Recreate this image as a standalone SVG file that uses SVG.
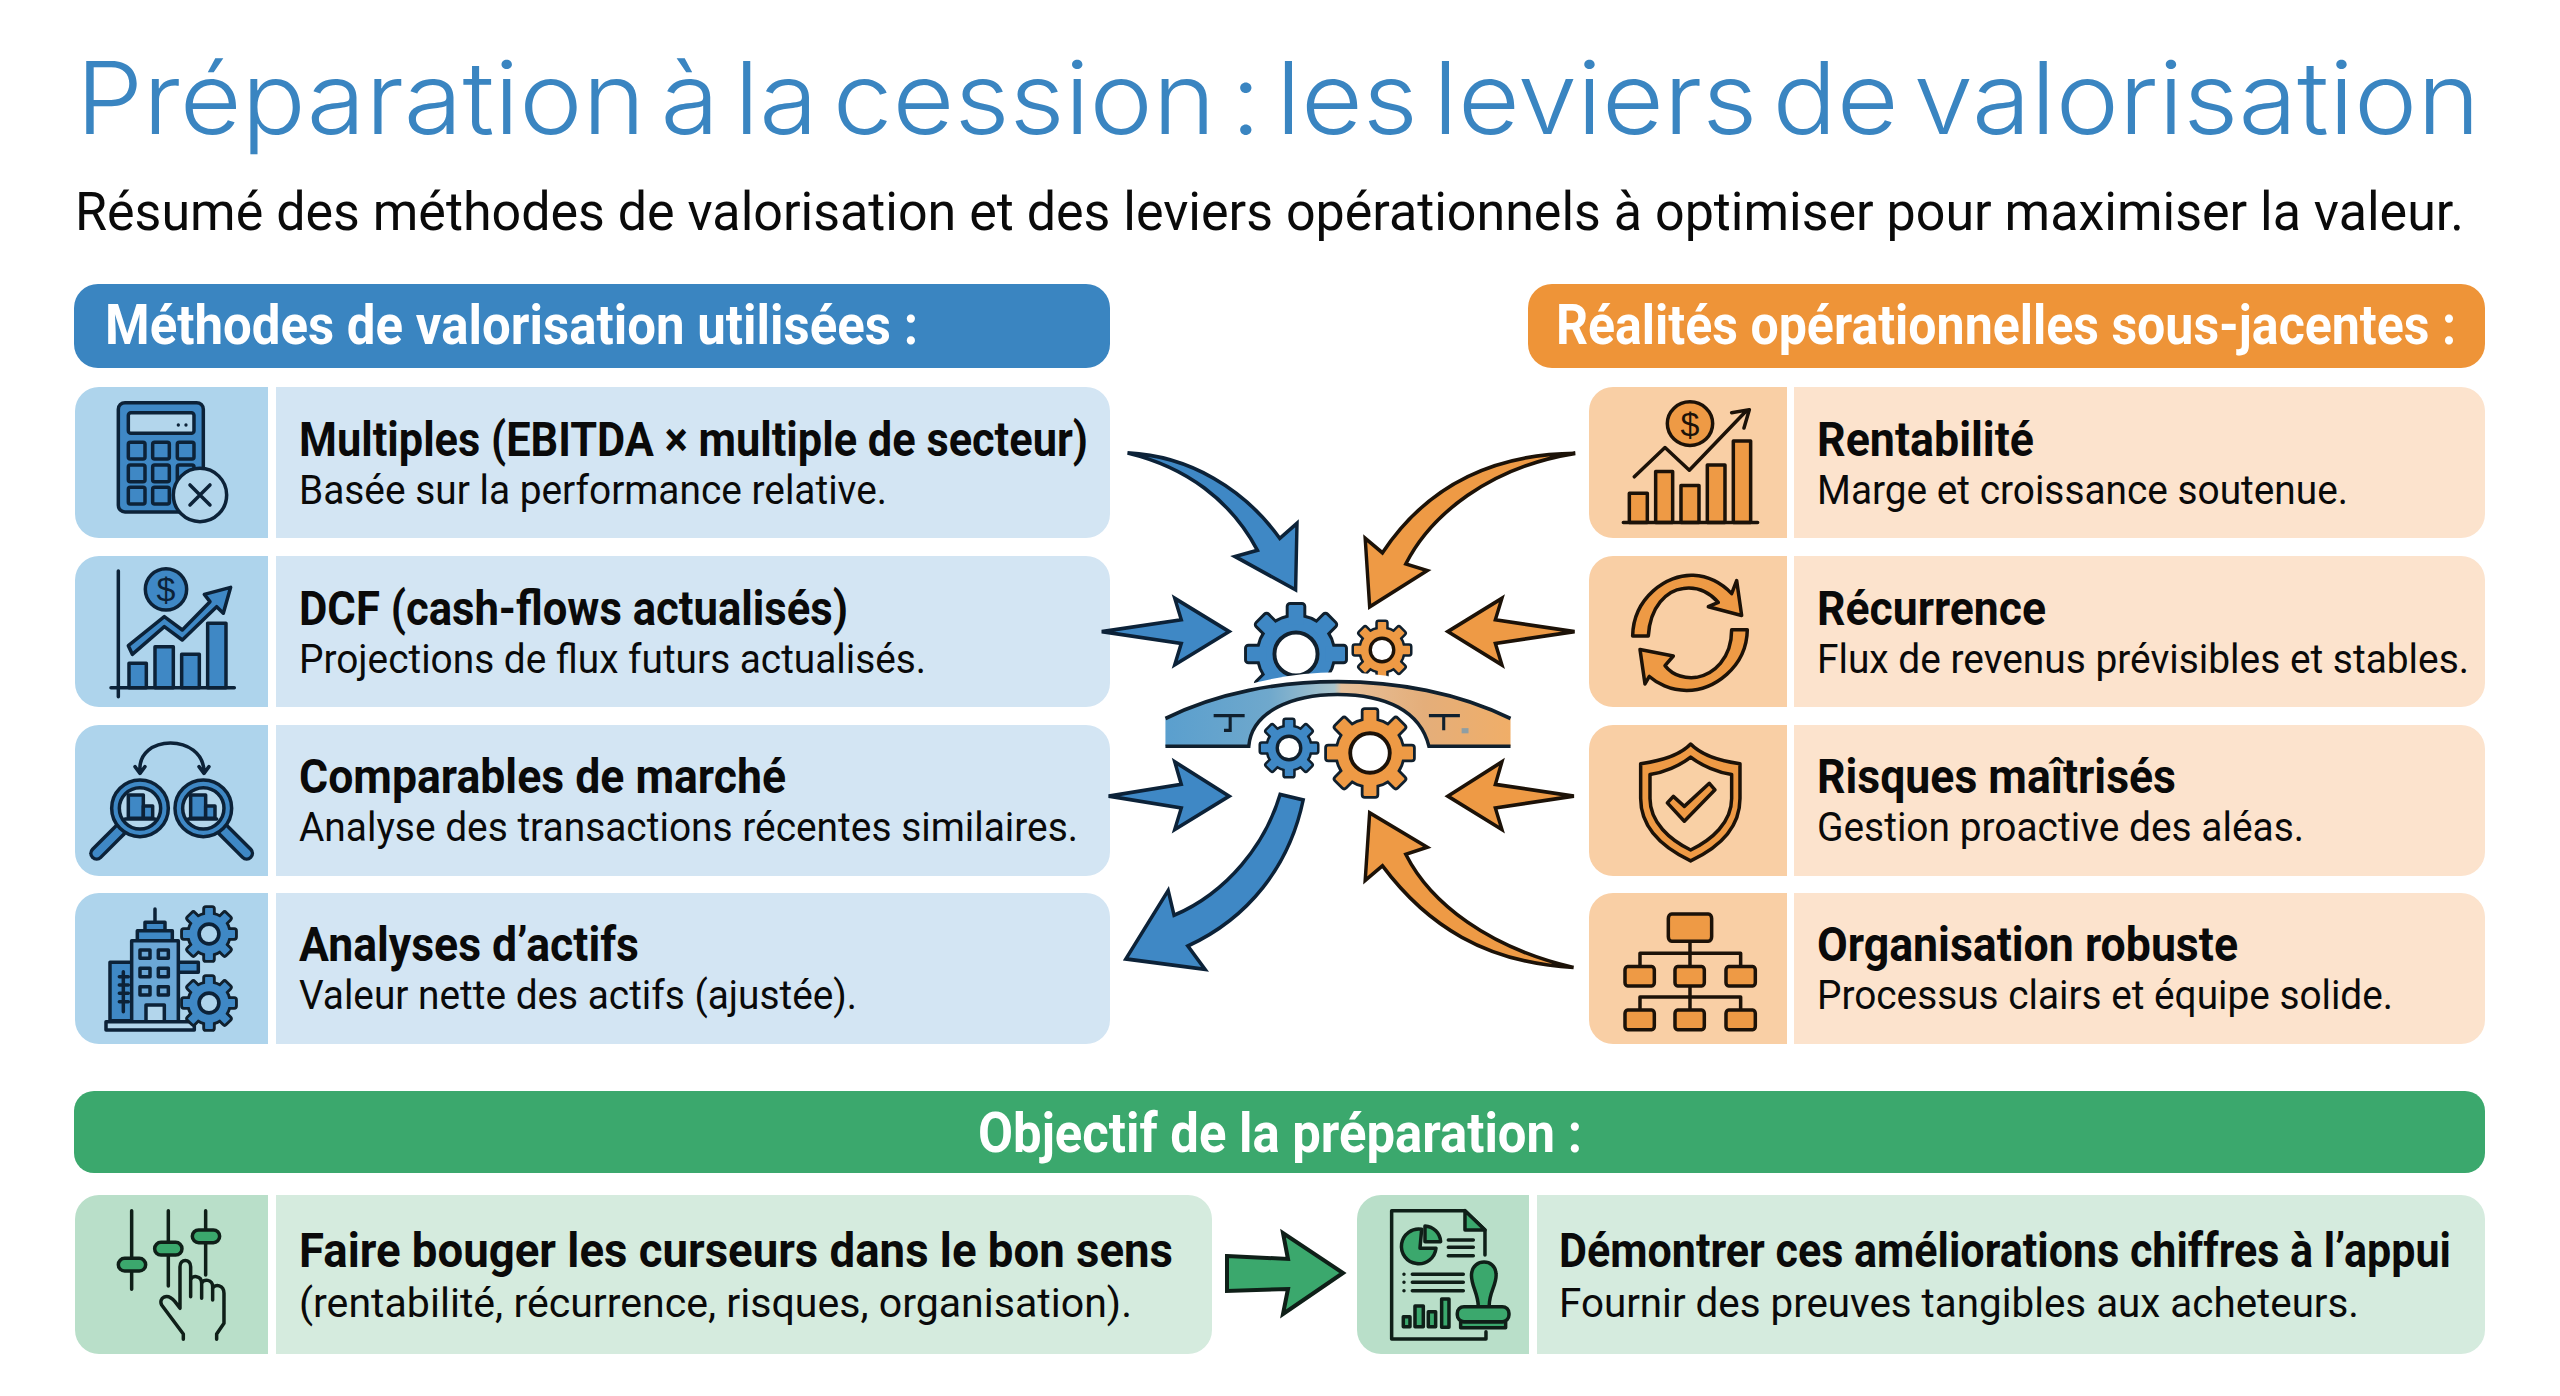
<svg xmlns="http://www.w3.org/2000/svg" width="2560" height="1396" viewBox="0 0 2560 1396">
<style>
text{font-family:Roboto,"Liberation Sans",sans-serif;fill:#0a0a0a}
.title{font-family:Inter,"Noto Sans",sans-serif;font-weight:300;font-size:100px;fill:#3a85c1;word-spacing:-14px}
.sub{font-size:54px}
.h{font-size:55px;font-weight:700;fill:#fff}
.t{font-size:49px;font-weight:700}
.s{font-size:41px}
.bh{fill:#3a85c1}.oh{fill:#ee9438}.gh{fill:#3ba86d}
.bi{fill:#aed4ec}.bt{fill:#d3e5f3}
.oi{fill:#f9cfa5}.ot{fill:#fce3cd}
.gi{fill:#b9dfc9}.gt{fill:#d5ebde}
.k,.k *{stroke-width:3.5;stroke-linejoin:round;stroke-linecap:round;vector-effect:non-scaling-stroke}
.kb,.kb *{stroke:#0c2238}
.ko,.ko *{stroke:#1c1208}
.kg,.kg *{stroke:#0f1f18}
.nf{fill:none}
.fb{fill:#3f88c5}.fo{fill:#ee9a45}.fg{fill:#3ba86d}.lb{fill:#b3d6ec}.lo{fill:#f9d0a5}.lg{fill:#bde0cc}
.dot{fill:#0c2238;stroke:none}
.arrow{stroke-width:10;stroke-linejoin:miter;vector-effect:none}
</style>
<defs>
<g id="gs"><circle r="76"/><g id="th">
<rect x="-15" y="-100" width="30" height="40" rx="3"/><rect x="-15" y="-100" width="30" height="40" rx="3" transform="rotate(45)"/><rect x="-15" y="-100" width="30" height="40" rx="3" transform="rotate(90)"/><rect x="-15" y="-100" width="30" height="40" rx="3" transform="rotate(135)"/><rect x="-15" y="-100" width="30" height="40" rx="3" transform="rotate(180)"/><rect x="-15" y="-100" width="30" height="40" rx="3" transform="rotate(225)"/><rect x="-15" y="-100" width="30" height="40" rx="3" transform="rotate(270)"/><rect x="-15" y="-100" width="30" height="40" rx="3" transform="rotate(315)"/></g></g>
<g id="gear"><use href="#gs" fill="#10202e" stroke="#10202e"/><use href="#gs" fill="currentColor" stroke="none"/></g>
<linearGradient id="bridge" x1="0" x2="1" y1="0" y2="0"><stop offset="0" stop-color="#5a9fce"/><stop offset=".3" stop-color="#6fa8cc"/><stop offset=".49" stop-color="#a9c4cc"/><stop offset=".51" stop-color="#e6c09a"/><stop offset=".75" stop-color="#e4ae7a"/><stop offset="1" stop-color="#f0ae68"/></linearGradient>
</defs>
<rect width="2560" height="1396" fill="#fff"/>

<text class="title" x="76" y="134" textLength="2404" lengthAdjust="spacingAndGlyphs">Préparation à la cession : les leviers de valorisation</text>
<text class="sub" x="75" y="230" textLength="2389" lengthAdjust="spacingAndGlyphs">Résumé des méthodes de valorisation et des leviers opérationnels à optimiser pour maximiser la valeur.</text>

<g id="header-methodes"><rect class="bh" x="74" y="284" width="1036" height="84" rx="24"/><text class="h" x="105" y="344" textLength="813" lengthAdjust="spacingAndGlyphs">Méthodes de valorisation utilisées :</text></g>
<g id="header-realites"><rect class="oh" x="1528" y="284" width="957" height="84" rx="24"/><text class="h" x="1556" y="344" textLength="900" lengthAdjust="spacingAndGlyphs">Réalités opérationnelles sous-jacentes :</text></g>

<g id="m-multiples">
<path class="bi" d="M99,387H268V538H99A24,24 0 0 1 75,514V411A24,24 0 0 1 99,387Z"/>
<path class="bt" d="M276,387H1086A24,24 0 0 1 1110,411V514A24,24 0 0 1 1086,538H276Z"/>
<g class="k kb" transform="translate(60,270) scale(.3333)">
<rect class="fb" x="175" y="398" width="255" height="328" rx="20"/><rect class="lb" x="205" y="428" width="197" height="62" rx="8"/>
<rect class="fb" x="205" y="517" width="50" height="50" rx="6"/><rect class="fb" x="278" y="517" width="50" height="50" rx="6"/><rect class="fb" x="352" y="517" width="50" height="50" rx="6"/>
<rect class="fb" x="205" y="585" width="50" height="50" rx="6"/><rect class="fb" x="278" y="585" width="50" height="50" rx="6"/><rect class="fb" x="352" y="585" width="50" height="50" rx="6"/>
<rect class="fb" x="205" y="652" width="50" height="50" rx="6"/><rect class="fb" x="278" y="652" width="50" height="50" rx="6"/>
<circle class="dot" cx="355" cy="465" r="5"/><circle class="dot" cx="378" cy="465" r="5"/>
<circle class="lb" cx="420" cy="675" r="80"/><path class="nf" d="M390,645L450,705M450,645L390,705"/>
</g>
<text class="t" x="299" y="456" textLength="789" lengthAdjust="spacingAndGlyphs">Multiples (EBITDA × multiple de secteur)</text>
<text class="s" x="299" y="504" textLength="588" lengthAdjust="spacingAndGlyphs">Basée sur la performance relative.</text>
</g>

<g id="m-dcf">
<path class="bi" d="M99,556H268V707H99A24,24 0 0 1 75,683V580A24,24 0 0 1 99,556Z"/>
<path class="bt" d="M276,556H1086A24,24 0 0 1 1110,580V683A24,24 0 0 1 1086,707H276Z"/>
<g class="k kb" transform="translate(75,555) scale(.3333)">
<path class="nf" d="M130,48V425M108,398H478"/>
<rect class="fb" x="162" y="325" width="52" height="73"/><rect class="fb" x="240" y="275" width="55" height="123"/><rect class="fb" x="320" y="298" width="53" height="100"/><rect class="fb" x="398" y="205" width="55" height="193"/>
<path class="fb" d="M160,272L268,185L322,225L405,140L388,118L467,97L445,175L425,155L322,255L268,215L172,298Z"/>
<circle class="fb" cx="273" cy="103" r="62"/>
</g>
<text x="166" y="601" font-size="34" text-anchor="middle" style="fill:#0c2238;font-family:'Liberation Sans',sans-serif">$</text>
<text class="t" x="299" y="625" textLength="549" lengthAdjust="spacingAndGlyphs">DCF (cash-flows actualisés)</text>
<text class="s" x="299" y="673" textLength="627" lengthAdjust="spacingAndGlyphs">Projections de flux futurs actualisés.</text>
</g>

<g id="m-comparables">
<path class="bi" d="M99,725H268V876H99A24,24 0 0 1 75,852V749A24,24 0 0 1 99,725Z"/>
<path class="bt" d="M276,725H1086A24,24 0 0 1 1110,749V852A24,24 0 0 1 1086,876H276Z"/>
<g class="k kb" transform="translate(60,710) scale(.3333)">
<path class="nf" d="M240,185C230,70 430,70 432,185M225,170L240,190L255,170M417,170L432,190L447,170"/>
<path class="nf" d="M180,360L110,430" style="stroke-width:15"/><path class="nf" d="M180,360L110,430" style="stroke:#3f88c5;stroke-width:8"/>
<path class="nf" d="M490,360L560,430" style="stroke-width:15"/><path class="nf" d="M490,360L560,430" style="stroke:#3f88c5;stroke-width:8"/>
<circle class="fb" cx="240" cy="295" r="85"/><circle class="lb" cx="240" cy="295" r="62"/>
<circle class="fb" cx="430" cy="295" r="85"/><circle class="lb" cx="430" cy="295" r="62"/>
<rect class="fb" x="205" y="255" width="45" height="70"/><rect class="fb" x="250" y="288" width="28" height="37"/><path class="nf" d="M195,327H285"/>
<rect class="fb" x="392" y="255" width="45" height="70"/><rect class="fb" x="437" y="288" width="28" height="37"/><path class="nf" d="M385,327H470"/>
</g>
<text class="t" x="299" y="793" textLength="487" lengthAdjust="spacingAndGlyphs">Comparables de marché</text>
<text class="s" x="299" y="841" textLength="779" lengthAdjust="spacingAndGlyphs">Analyse des transactions récentes similaires.</text>
</g>

<g id="m-actifs">
<path class="bi" d="M99,893H268V1044H99A24,24 0 0 1 75,1020V917A24,24 0 0 1 99,893Z"/>
<path class="bt" d="M276,893H1086A24,24 0 0 1 1110,917V1020A24,24 0 0 1 1086,1044H276Z"/>
<g class="k kb" transform="translate(60,710) scale(.3333)">
<path class="nf" d="M285,597V637"/>
<path class="fb" d="M150,757H415V787H355V932H150Z"/>
<path class="nf" d="M190,785V905M178,800H205M178,825H205M178,850H205M178,875H205"/>
<rect class="fb" x="255" y="637" width="60" height="25"/><rect class="fb" x="232" y="662" width="105" height="30"/>
<rect class="lb" x="215" y="692" width="140" height="243" style="fill:#6ba7d6"/>
<rect class="nf" x="240" y="720" width="30" height="25"/><rect class="nf" x="295" y="720" width="30" height="25"/>
<rect class="nf" x="240" y="775" width="30" height="25"/><rect class="nf" x="295" y="775" width="30" height="25"/>
<rect class="nf" x="240" y="830" width="30" height="25"/><rect class="nf" x="295" y="830" width="30" height="25"/>
<rect class="lb" x="258" y="885" width="55" height="50"/>
<rect class="lb" x="138" y="935" width="265" height="25"/>
</g>
<g transform="translate(209,934) scale(.26)" stroke-width="22" color="#3f88c5"><use href="#gear"/><circle r="38" fill="#aed4ec" stroke="#0c2238" stroke-width="14"/></g>
<g transform="translate(209,1003) scale(.26)" stroke-width="22" color="#3f88c5"><use href="#gear"/><circle r="38" fill="#aed4ec" stroke="#0c2238" stroke-width="14"/></g>
<text class="t" x="299" y="961" textLength="340" lengthAdjust="spacingAndGlyphs">Analyses d’actifs</text>
<text class="s" x="299" y="1009" textLength="558" lengthAdjust="spacingAndGlyphs">Valeur nette des actifs (ajustée).</text>
</g>

<g id="r-rentabilite">
<path class="oi" d="M1613,387H1787V538H1613A24,24 0 0 1 1589,514V411A24,24 0 0 1 1613,387Z"/>
<path class="ot" d="M1794,387H2461A24,24 0 0 1 2485,411V514A24,24 0 0 1 2461,538H1794Z"/>
<g class="k ko" transform="translate(1590,380) scale(.3333,.436)">
<rect class="fo" x="118" y="260" width="54" height="67"/><rect class="fo" x="197" y="210" width="51" height="117"/><rect class="fo" x="273" y="242" width="54" height="85"/><rect class="fo" x="352" y="195" width="53" height="132"/><rect class="fo" x="430" y="140" width="52" height="187"/>
<path class="nf" d="M100,327H503M133,222L225,155L298,207L470,70M425,75L478,68L462,110"/>
<ellipse class="fo" cx="300" cy="100" rx="68" ry="50"/>
</g>
<text x="1690" y="436" font-size="34" text-anchor="middle" style="fill:#1c1208;font-family:'Liberation Sans',sans-serif">$</text>
<text class="t" x="1817" y="456" textLength="217" lengthAdjust="spacingAndGlyphs">Rentabilité</text>
<text class="s" x="1817" y="504" textLength="531" lengthAdjust="spacingAndGlyphs">Marge et croissance soutenue.</text>
</g>

<g id="r-recurrence">
<path class="oi" d="M1613,556H1787V707H1613A24,24 0 0 1 1589,683V580A24,24 0 0 1 1613,556Z"/>
<path class="ot" d="M1794,556H2461A24,24 0 0 1 2485,580V683A24,24 0 0 1 2461,707H1794Z"/>
<g class="k ko" transform="translate(1590,380) scale(.3333,.436)">
<path class="fo" d="M128,587C130,500 230,445 310,448C360,450 400,470 425,490L440,460L455,540L355,520L385,510C350,480 310,475 280,478C230,482 180,520 175,587Z"/>
<path class="fo" d="M472,573C470,660 370,712 290,712C240,712 200,695 178,680L165,697L150,618L250,633L225,655C250,680 290,685 320,682C370,675 425,640 425,573Z"/>
</g>
<text class="t" x="1817" y="625" textLength="229" lengthAdjust="spacingAndGlyphs">Récurrence</text>
<text class="s" x="1817" y="673" textLength="652" lengthAdjust="spacingAndGlyphs">Flux de revenus prévisibles et stables.</text>
</g>

<g id="r-risques">
<path class="oi" d="M1613,725H1787V876H1613A24,24 0 0 1 1589,852V749A24,24 0 0 1 1613,725Z"/>
<path class="ot" d="M1794,725H2461A24,24 0 0 1 2485,749V852A24,24 0 0 1 2461,876H1794Z"/>
<g class="k ko" transform="translate(1590,380) scale(.3333,.436)">
<path class="fo" d="M302,835C340,865 400,875 450,880L450,960C450,1030 380,1075 302,1103C225,1075 152,1030 152,960L152,880C200,875 265,865 302,835Z"/>
<path class="lo" d="M302,865C335,885 385,900 425,905L425,960C425,1015 365,1055 302,1078C240,1055 180,1015 180,960L180,905C220,900 270,885 302,865Z"/>
<path class="fo" d="M232,970L250,955L283,978L358,925L375,940L283,1012Z"/>
</g>
<text class="t" x="1817" y="793" textLength="359" lengthAdjust="spacingAndGlyphs">Risques maîtrisés</text>
<text class="s" x="1817" y="841" textLength="487" lengthAdjust="spacingAndGlyphs">Gestion proactive des aléas.</text>
</g>

<g id="r-organisation">
<path class="oi" d="M1613,893H1787V1044H1613A24,24 0 0 1 1589,1020V917A24,24 0 0 1 1613,893Z"/>
<path class="ot" d="M1794,893H2461A24,24 0 0 1 2485,917V1020A24,24 0 0 1 2461,1044H1794Z"/>
<g class="k ko" transform="translate(1590,380) scale(.3333,.436)">
<path class="nf" d="M300,1287V1470M150,1345V1315H452V1345M150,1445V1415H452V1445"/>
<rect class="fo" x="235" y="1225" width="130" height="62" rx="10"/>
<rect class="fo" x="105" y="1345" width="88" height="45" rx="8"/><rect class="fo" x="255" y="1345" width="88" height="45" rx="8"/><rect class="fo" x="408" y="1345" width="88" height="45" rx="8"/>
<rect class="fo" x="105" y="1445" width="88" height="45" rx="8"/><rect class="fo" x="255" y="1445" width="88" height="45" rx="8"/><rect class="fo" x="408" y="1445" width="88" height="45" rx="8"/>
</g>
<text class="t" x="1817" y="961" textLength="421" lengthAdjust="spacingAndGlyphs">Organisation robuste</text>
<text class="s" x="1817" y="1009" textLength="576" lengthAdjust="spacingAndGlyphs">Processus clairs et équipe solide.</text>
</g>

<g id="hub">
<g transform="translate(1296,654) scale(.49)" stroke-width="12" color="#3f88c5"><use href="#gear"/><circle r="44" fill="#fff" stroke="#10202e" stroke-width="8"/></g>
<g transform="translate(1382,650) scale(.28)" stroke-width="18" color="#ee9a45"><use href="#gear"/><circle r="42" fill="#fff" stroke="#1c1208" stroke-width="12"/></g>
<g transform="translate(1100,430) scale(.3444,.3699)">
<path d="M190,780C340,700 520,655 690,655C860,655 1040,700 1192,780V790H190Z" fill="#fff"/>
<path d="M190,780C340,710 520,680 690,680C860,680 1040,710 1192,780V855H955C930,760 830,715 690,715C560,715 440,760 432,855H190Z" fill="url(#bridge)"/>
<path d="M190,780C340,710 520,680 690,680C860,680 1040,710 1192,780M190,855H432C440,760 560,715 690,715C830,715 930,760 955,855H1192" fill="none" stroke="#10202e" stroke-width="10"/>
<path d="M330,772H420M378,772V812H360M955,772H1045M998,772V812" fill="none" stroke="#10202e" stroke-width="9"/>
<rect x="1050" y="806" width="20" height="14" fill="#8f9ea3"/>
</g>
<g transform="translate(1289,748) scale(.28)" stroke-width="18" color="#3f88c5"><use href="#gear"/><circle r="42" fill="#fff" stroke="#10202e" stroke-width="12"/></g>
<g transform="translate(1370,753) scale(.43)" stroke-width="13" color="#ee9a45"><use href="#gear"/><circle r="46" fill="#fff" stroke="#1c1208" stroke-width="9"/></g>
</g>

<g id="connectors">
<g transform="translate(1100,430) scale(.3444,.3699)">
<path class="arrow fb kb" d="M80,62C260,70 420,160 522,293L572,252L568,432L392,342L457,325C380,190 250,100 80,62Z"/>
<path class="arrow fo ko" d="M1380,63C1140,65 950,150 820,332L770,293L783,478L950,380L888,362C960,230 1130,100 1380,63Z"/>
<path class="arrow fb kb" d="M5,545L236,513L217,455L375,545L217,635L236,577Z"/>
<path class="arrow fb kb" d="M25,990L236,958L217,897L375,990L217,1080L236,1022Z"/>
<path class="arrow fo ko" d="M1378,545L1148,513L1167,455L1010,545L1167,635L1148,577Z"/>
<path class="arrow fo ko" d="M1376,990L1148,958L1167,897L1010,990L1167,1080L1148,1022Z"/>
<path class="arrow fb kb" d="M523,985C480,1120 370,1250 215,1312L198,1245L75,1430L305,1458L255,1395C430,1320 550,1180 590,1000Z"/>
<path class="arrow fo ko" d="M1375,1453C1120,1440 950,1340 820,1178L770,1218L783,1035L950,1128L888,1147C960,1280 1130,1400 1375,1453Z"/>
</g>
<path class="fg kg" d="M1227,1256L1288,1259L1283,1233L1343,1273L1283,1314L1288,1289L1227,1291Z" stroke-width="4" stroke-linejoin="miter"/>
</g>

<g id="header-objectif"><rect class="gh" x="74" y="1091" width="2411" height="82" rx="20"/><text class="h" x="1280" y="1152" text-anchor="middle" textLength="604" lengthAdjust="spacingAndGlyphs">Objectif de la préparation :</text></g>

<g id="b-curseurs">
<path class="gi" d="M99,1195H268V1354H99A24,24 0 0 1 75,1330V1219A24,24 0 0 1 99,1195Z"/>
<path class="gt" d="M276,1195H1188A24,24 0 0 1 1212,1219V1330A24,24 0 0 1 1188,1354H276Z"/>
<g class="k kg" transform="translate(60,1190) scale(.3333)">
<path class="nf" d="M215,62V298M325,62V288M437,62V255"/>
<rect class="fg" x="175" y="205" width="82" height="38" rx="19"/><rect class="fg" x="284" y="157" width="82" height="38" rx="19"/><rect class="fg" x="397" y="120" width="82" height="38" rx="19"/>
<path class="nf" d="M370,448V432L305,345C295,325 320,305 345,335L360,355V230C360,205 392,205 392,230V320M392,270C395,255 425,255 425,280V325M425,280C430,265 458,268 458,290V330M458,295C465,280 492,285 492,310V400L470,432V448"/>
</g>
<text class="t" x="299" y="1267" textLength="874" lengthAdjust="spacingAndGlyphs">Faire bouger les curseurs dans le bon sens</text>
<text class="s" x="299" y="1317" textLength="833" lengthAdjust="spacingAndGlyphs">(rentabilité, récurrence, risques, organisation).</text>
</g>

<g id="b-preuves">
<path class="gi" d="M1381,1195H1529V1354H1381A24,24 0 0 1 1357,1330V1219A24,24 0 0 1 1381,1195Z"/>
<path class="gt" d="M1537,1195H2461A24,24 0 0 1 2485,1219V1330A24,24 0 0 1 2461,1354H1537Z"/>
<g class="k kg" transform="translate(1200,1190) scale(.3333)">
<path class="nf" d="M855,195V120L795,62H575V447H858V425"/>
<path class="fg" d="M795,62V120H855Z"/>
<path class="fg" d="M665,118A52,52 0 1 0 708,175H660Z"/><path class="fg" d="M675,108A50,50 0 0 1 722,155H675Z"/>
<path class="nf" d="M745,150H820M745,172H820M745,197H820M637,253H790M637,277H790M637,302H790M612,253V253M612,277V277M612,302V302"/>
<rect class="fg" x="610" y="380" width="20" height="30"/><rect class="fg" x="645" y="348" width="25" height="62"/><rect class="fg" x="685" y="365" width="22" height="45"/><rect class="fg" x="725" y="327" width="22" height="85"/>
<path class="fg" d="M835,350C835,310 810,280 815,250C820,205 885,205 888,250C893,280 865,310 868,350Z"/>
<rect class="fg" x="782" y="395" width="135" height="18"/><rect class="fg" x="772" y="350" width="155" height="45" rx="20"/>
</g>
<text class="t" x="1559" y="1267" textLength="892" lengthAdjust="spacingAndGlyphs">Démontrer ces améliorations chiffres à l’appui</text>
<text class="s" x="1559" y="1317" textLength="800" lengthAdjust="spacingAndGlyphs">Fournir des preuves tangibles aux acheteurs.</text>
</g>
</svg>
